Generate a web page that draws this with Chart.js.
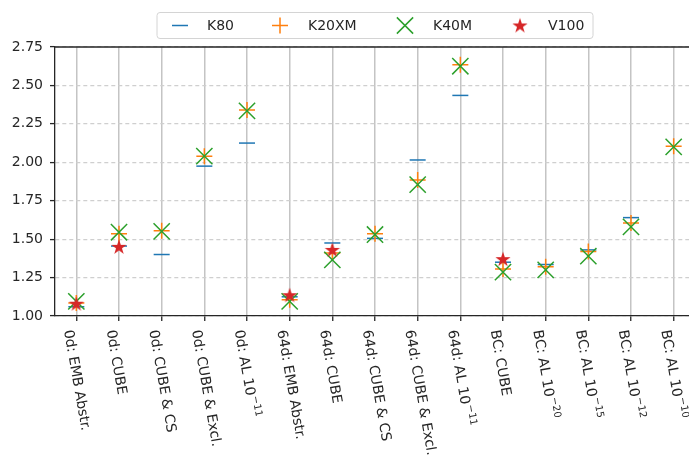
<!DOCTYPE html>
<html lang="en">
<head>
  <meta charset="UTF-8" />
  <title>Speedup per GPU</title>
  <script src="https://cdn.jsdelivr.net/npm/chart.js"></script>
  <style>
    html, body { margin: 0; padding: 0; background: #fff; overflow: hidden; }
    #wrap { width: 689px; height: 466px; overflow: hidden; }
    canvas { display: block; }
  </style>
</head>
<body>
  <div id="wrap"><canvas id="grafico" width="700" height="466"></canvas></div>

<script>
  // categories, "^" marks the superscript part of the label
  const categories = [
    "0d: EMB Abstr.", "0d: CUBE", "0d: CUBE & CS", "0d: CUBE & Excl.", "0d: AL 10^\u221211",
    "64d: EMB Abstr.", "64d: CUBE", "64d: CUBE & CS", "64d: CUBE & Excl.", "64d: AL 10^\u221211",
    "BC: CUBE", "BC: AL 10^\u221220", "BC: AL 10^\u221215", "BC: AL 10^\u221212", "BC: AL 10^\u221210"
  ];
  const yTicks = [1.00, 1.25, 1.50, 1.75, 2.00, 2.25, 2.50, 2.75];

  const k80   = [1.06, 1.455, 1.40, 1.975, 2.125, 1.125, 1.475, 1.505, 2.015, 2.435, 1.35, 1.335, 1.43, 1.64, null];
  const k20xm = [1.085, 1.535, 1.555, 2.04, 2.34, 1.105, 1.41, 1.535, 1.885, 2.635, 1.305, 1.32, 1.42, 1.605, 2.105];
  const k40m  = [1.095, 1.545, 1.55, 2.04, 2.335, 1.095, 1.365, 1.53, 1.855, 2.625, 1.285, 1.30, 1.39, 1.58, 2.10];
  const v100  = [1.08, 1.45, null, null, null, 1.135, 1.43, null, null, null, 1.37, null, null, null, null];

  const FONT = '"DejaVu Sans", "Liberation Sans", sans-serif';
  const TEXT = "#262626";

  function pontos(valores) {
    return valores.map((v, i) => ({ x: i, y: v })).filter(p => p.y !== null);
  }

  // filled star like matplotlib's "*"
  function estrela(cor) {
    const c = document.createElement("canvas");
    c.width = 18; c.height = 18;
    const g = c.getContext("2d");
    g.beginPath();
    for (let k = 0; k < 10; k++) {
      const r = k % 2 === 0 ? 8 : 3.1;
      const a = -Math.PI / 2 + k * Math.PI / 5;
      const px = 9 + r * Math.cos(a), py = 9.5 + r * Math.sin(a);
      if (k === 0) g.moveTo(px, py); else g.lineTo(px, py);
    }
    g.closePath();
    g.fillStyle = cor;
    g.fill();
    return c;
  }

  function serie(label, valores, cor, estilo, raio, ordem) {
    return {
      label: label,
      data: pontos(valores),
      showLine: false,
      pointStyle: estilo,
      pointRadius: raio,
      pointHoverRadius: raio,
      pointBorderWidth: 1.5,
      pointHoverBorderWidth: 1.5,
      pointBorderColor: cor,
      pointBackgroundColor: cor,
      borderColor: cor,
      backgroundColor: cor,
      order: ordem
    };
  }

  // rotated tick labels (text reads downward), top/right frame lines
  const eixoX = {
    id: "eixoX",
    afterDraw(chart) {
      const { ctx, chartArea, scales } = chart;
      ctx.save();
      ctx.strokeStyle = TEXT;
      ctx.lineWidth = 1.3;
      ctx.beginPath();
      ctx.moveTo(chartArea.left, chartArea.top);
      ctx.lineTo(chartArea.right, chartArea.top);
      ctx.lineTo(chartArea.right, chartArea.bottom);
      ctx.stroke();

      ctx.fillStyle = TEXT;
      ctx.textAlign = "left";
      ctx.textBaseline = "alphabetic";
      categories.forEach((label, i) => {
        const [main, sup] = label.split("^");
        const px = scales.x.getPixelForValue(i);
        ctx.save();
        ctx.translate(px, chartArea.bottom + 12.5);
        ctx.rotate(80 * Math.PI / 180);
        ctx.font = "14px " + FONT;
        ctx.fillText(main, 0, 12.5);
        if (sup) {
          const w = ctx.measureText(main).width;
          ctx.font = "10px " + FONT;
          ctx.fillText(sup, w + 1, 6.5);
        }
        ctx.restore();
      });
      ctx.restore();
    }
  };

  // legend box above the axes, centred on the plot area
  const legenda = {
    id: "legenda",
    afterDraw(chart) {
      const { ctx, chartArea } = chart;
      const cx = (chartArea.left + chartArea.right) / 2;
      const cy = 25.5;
      const marcadores = [-195, -95, 30, 145];
      const textos = [-168, -67, 58, 173];
      ctx.save();
      ctx.strokeStyle = "#d4d4d4";
      ctx.lineWidth = 1;
      ctx.beginPath();
      ctx.roundRect(cx - 218, 12.5, 436, 26, 3);
      ctx.stroke();

      ctx.font = "14px " + FONT;
      ctx.textBaseline = "middle";
      ctx.textAlign = "left";
      chart.data.datasets.forEach((ds, i) => {
        ctx.strokeStyle = ds.pointBorderColor;
        ctx.fillStyle = ds.pointBackgroundColor;
        ctx.lineWidth = ds.pointBorderWidth;
        Chart.helpers.drawPoint(ctx, {
          pointStyle: ds.pointStyle,
          radius: ds.pointRadius,
          borderWidth: ds.pointBorderWidth,
          rotation: 0
        }, cx + marcadores[i], cy);
        ctx.fillStyle = TEXT;
        ctx.fillText(ds.label, cx + textos[i], cy + 0.5);
      });
      ctx.restore();
    }
  };

  const ctx = document.getElementById("grafico").getContext("2d");
  new Chart(ctx, {
    type: "scatter",
    data: {
      datasets: [
        serie("K80", k80, "#1f77b4", "line", 8, 4),
        serie("K20XM", k20xm, "#ff7f0e", "cross", 8, 3),
        serie("K40M", k40m, "#2ca02c", "crossRot", 11.5, 2),
        serie("V100", v100, "#d62728", estrela("#d62728"), 8, 1)
      ]
    },
    options: {
      responsive: false,
      animation: false,
      devicePixelRatio: 1,
      events: [],
      layout: { autoPadding: false, padding: { top: 47, right: 5, bottom: 0, left: 0 } },
      plugins: {
        legend: { display: false },
        tooltip: { enabled: false }
      },
      scales: {
        x: {
          type: "linear",
          min: -0.5,
          max: 14.5,
          afterBuildTicks: scale => { scale.ticks = categories.map((c, i) => ({ value: i })); },
          afterFit: scale => { scale.height = 150; },
          ticks: { display: false },
          grid: {
            color: "#c4c4c4",
            lineWidth: 1.5,
            tickLength: 5,
            tickColor: TEXT,
            tickWidth: 1.3,
            tickBorderDash: []
          },
          border: { color: TEXT, width: 1.3 }
        },
        y: {
          type: "linear",
          min: 1,
          max: 2.75,
          afterBuildTicks: scale => { scale.ticks = yTicks.map(v => ({ value: v })); },
          afterFit: scale => { scale.width = 55; },
          ticks: {
            padding: 7,
            color: TEXT,
            font: { family: FONT, size: 14 },
            callback: v => v.toFixed(2)
          },
          grid: {
            color: "#cfcfcf",
            lineWidth: 1.2,
            tickLength: 5,
            tickColor: TEXT,
            tickWidth: 1.3,
            tickBorderDash: []
          },
          border: { color: TEXT, width: 1.3, dash: [4, 3] }
        }
      }
    },
    plugins: [eixoX, legenda]
  });
</script>
</body>
</html>
